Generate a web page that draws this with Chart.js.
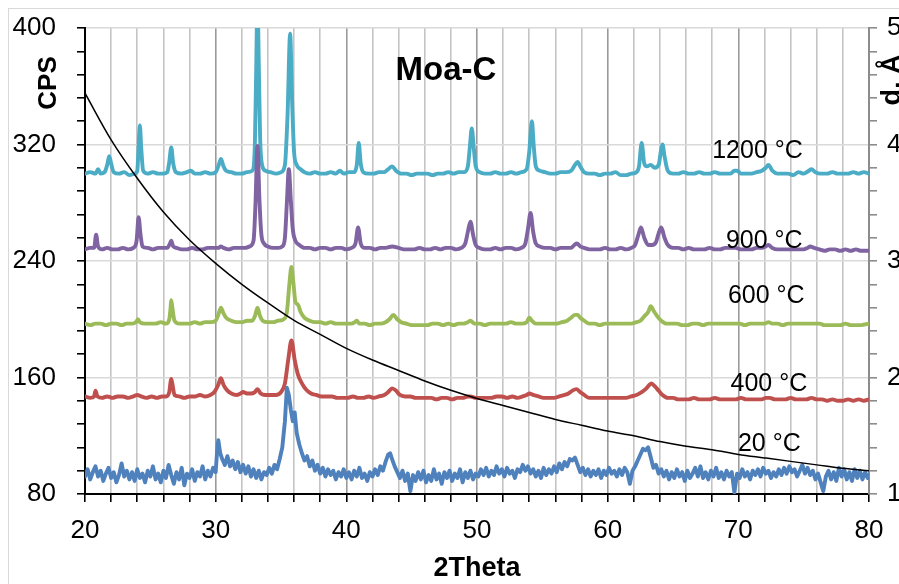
<!DOCTYPE html>
<html>
<head>
<meta charset="utf-8">
<script src="https://cdn.jsdelivr.net/npm/chart.js@4.4.1/dist/chart.umd.min.js"></script>
<style>
  html, body { margin: 0; padding: 0; background: #fff; overflow: hidden; }
  canvas { display: block; }
</style>
</head>
<body>
<canvas id="xrd" width="899" height="584"></canvas>
<script>
// 2Theta / CPS pairs
const cps1200 = [[20,300],[20.4,301],[20.8,300],[21.0,303],[21.2,300],[21.5,301],[21.7,306],[21.85,312],[22.0,307],[22.2,301],[22.6,300],[23.0,301],[23.4,299],[23.8,300],[24.0,302],[24.1,318],[24.2,333],[24.3,318],[24.45,302],[24.8,300],[25.2,301],[25.6,300],[26.0,300],[26.3,301],[26.45,308],[26.6,318],[26.75,307],[26.95,301],[27.4,300],[27.8,301],[28.1,302],[28.4,300],[28.8,300],[29.2,301],[29.6,300],[30.0,301],[30.2,305],[30.4,310],[30.6,305],[30.8,302],[31.2,301],[31.6,300],[32.0,300],[32.4,301],[32.8,302],[33.0,320],[33.1,370],[33.2,420],[33.3,375],[33.4,325],[33.55,306],[33.8,302],[34.2,301],[34.6,300],[35.0,301],[35.3,306],[35.5,340],[35.7,396],[35.85,350],[36.0,315],[36.2,306],[36.5,303],[36.8,301],[37.2,300],[37.6,301],[38.0,300],[38.4,300],[38.8,301],[39.2,300],[39.5,302],[39.8,300],[40.2,301],[40.6,301],[40.8,306],[40.95,321],[41.1,307],[41.3,301],[41.7,300],[42.1,300],[42.5,301],[42.9,301],[43.2,303],[43.5,305],[43.8,302],[44.2,300],[44.6,300],[45.0,299],[45.4,300],[45.8,300],[46.2,300],[46.6,299],[47.0,300],[47.4,300],[47.8,301],[48.2,300],[48.6,301],[49.0,301],[49.3,305],[49.45,318],[49.6,331],[49.75,318],[49.9,305],[50.2,301],[50.6,300],[51.0,300],[51.4,301],[51.8,300],[52.2,300],[52.6,301],[53.0,300],[53.4,301],[53.8,303],[54.0,315],[54.2,336],[54.35,318],[54.5,305],[54.8,302],[55.2,301],[55.6,300],[56.0,300],[56.4,301],[56.8,301],[57.2,302],[57.5,306],[57.7,308],[57.9,305],[58.2,301],[58.6,300],[59.0,300],[59.4,299],[59.8,300],[60.2,300],[60.6,301],[61.0,299],[61.4,299],[61.8,300],[62.2,301],[62.4,305],[62.6,321],[62.8,307],[63.0,305],[63.3,306],[63.6,304],[63.9,306],[64.1,317],[64.2,320],[64.35,312],[64.6,302],[65.0,300],[65.4,300],[65.8,301],[66.2,300],[66.6,300],[67.0,301],[67.4,300],[67.8,300],[68.2,301],[68.6,300],[69.0,300],[69.4,300],[69.7,302],[69.9,302],[70.2,300],[70.6,300],[71.0,300],[71.4,301],[71.8,302],[72.1,304],[72.3,306],[72.6,302],[73.0,300],[73.4,300],[73.8,300],[74.2,299],[74.6,301],[75.0,300],[75.4,302],[75.6,303],[75.9,301],[76.3,300],[76.8,300],[77.2,301],[77.6,300],[78.0,300],[78.4,300],[78.8,301],[79.2,300],[79.6,301],[80,300]];

const cps900 = [[20,248],[20.4,249],[20.7,249],[20.85,258],[21.0,250],[21.3,248],[21.7,249],[22.1,248],[22.5,248],[22.9,249],[23.3,248],[23.7,249],[23.95,254],[24.1,270],[24.25,258],[24.4,250],[24.8,249],[25.2,248],[25.6,249],[26.0,249],[26.3,249],[26.5,252],[26.6,254],[26.75,250],[27.0,249],[27.4,248],[27.8,248],[28.2,249],[28.6,248],[29.0,248],[29.4,249],[29.8,249],[30.2,249],[30.4,250],[30.6,249],[31.0,248],[31.4,249],[31.8,249],[32.2,249],[32.6,250],[32.9,254],[33.05,280],[33.2,319],[33.35,282],[33.5,258],[33.7,252],[34.0,250],[34.4,249],[34.8,249],[35.1,250],[35.3,256],[35.45,280],[35.6,303],[35.75,282],[35.9,262],[36.1,254],[36.4,251],[36.8,249],[37.2,249],[37.6,248],[38.0,249],[38.4,249],[38.8,248],[39.2,249],[39.6,249],[40.0,248],[40.4,249],[40.7,252],[40.9,263],[41.1,252],[41.4,249],[41.8,249],[42.2,248],[42.6,249],[43.0,249],[43.5,250],[44.0,249],[44.4,248],[44.8,248],[45.2,248],[45.6,249],[46.0,248],[46.4,248],[46.8,249],[47.2,248],[47.6,249],[48.0,249],[48.4,248],[48.8,249],[49.1,252],[49.3,260],[49.5,267],[49.7,258],[49.9,251],[50.2,249],[50.6,248],[51.0,248],[51.4,249],[51.8,248],[52.2,249],[52.6,249],[53.0,248],[53.4,249],[53.7,252],[53.9,262],[54.1,273],[54.3,260],[54.5,252],[54.8,250],[55.2,249],[55.6,249],[56.0,248],[56.4,249],[56.8,249],[57.2,249],[57.45,251],[57.65,252],[57.9,250],[58.2,249],[58.6,248],[59.0,248],[59.4,248],[59.8,249],[60.2,248],[60.6,248],[61.0,249],[61.4,248],[61.8,249],[62.1,251],[62.35,258],[62.55,263],[62.8,256],[63.1,251],[63.4,251],[63.7,253],[63.9,259],[64.1,263],[64.35,256],[64.6,251],[65.0,249],[65.4,249],[65.8,248],[66.2,249],[66.6,248],[67.0,248],[67.4,248],[67.8,249],[68.2,248],[68.6,248],[69.0,249],[69.4,249],[69.8,249],[70.2,248],[70.6,248],[71.0,248],[71.4,249],[71.8,249],[72.1,250],[72.3,251],[72.6,249],[73.0,248],[73.4,248],[73.8,248],[74.2,248],[74.6,248],[75.0,248],[75.3,249],[75.5,250],[75.8,249],[76.2,248],[76.6,247],[77.0,248],[77.4,248],[77.8,247],[78.2,248],[78.6,247],[79.0,248],[79.4,247],[80,247]];

const cps600 = [[20,197],[20.4,196],[20.8,197],[21.2,197],[21.6,196],[22.0,197],[22.4,197],[22.8,196],[23.2,197],[23.6,197],[23.9,198],[24.05,200],[24.2,198],[24.6,197],[25.0,197],[25.4,197],[25.8,198],[26.2,197],[26.45,200],[26.55,208],[26.6,213],[26.7,207],[26.85,199],[27.2,197],[27.6,197],[28.0,197],[28.4,198],[28.8,197],[29.2,198],[29.6,198],[30.0,199],[30.2,203],[30.4,208],[30.6,204],[30.8,201],[31.2,199],[31.6,198],[32.0,198],[32.4,199],[32.8,199],[33.0,202],[33.2,208],[33.4,202],[33.6,199],[34.0,198],[34.4,198],[34.8,199],[35.2,200],[35.45,205],[35.65,225],[35.8,236],[35.95,225],[36.1,212],[36.3,210],[36.5,205],[36.8,201],[37.2,199],[37.6,198],[38.0,198],[38.4,197],[38.8,198],[39.2,197],[39.6,197],[40.0,197],[40.4,197],[40.65,198],[40.8,199],[41.0,197],[41.4,197],[41.8,196],[42.2,197],[42.6,197],[43.0,198],[43.3,200],[43.6,203],[43.9,200],[44.2,198],[44.6,197],[45.0,196],[45.4,196],[45.8,196],[46.2,196],[46.6,197],[47.0,197],[47.4,196],[47.8,197],[48.2,196],[48.6,197],[49.0,197],[49.3,198],[49.5,199],[49.8,197],[50.2,197],[50.6,196],[51.0,197],[51.4,197],[51.8,197],[52.2,197],[52.6,198],[53.0,197],[53.4,197],[53.8,198],[54.0,201],[54.2,199],[54.5,197],[54.9,197],[55.3,197],[55.7,197],[56.1,197],[56.5,198],[56.9,199],[57.2,201],[57.5,203],[57.7,203],[57.9,201],[58.2,199],[58.6,197],[59.0,197],[59.4,196],[59.8,197],[60.2,197],[60.6,197],[61.0,197],[61.4,197],[61.8,197],[62.2,198],[62.5,199],[62.8,202],[63.1,205],[63.3,209],[63.5,206],[63.8,202],[64.1,199],[64.5,197],[64.9,197],[65.3,197],[65.7,196],[66.1,196],[66.5,197],[66.9,197],[67.3,196],[67.7,197],[68.1,197],[68.5,197],[68.9,197],[69.3,197],[69.7,197],[70.1,197],[70.5,196],[70.9,197],[71.3,197],[71.7,197],[72.0,197],[72.3,198],[72.6,197],[73.0,197],[73.4,196],[73.8,197],[74.2,197],[74.6,197],[75.0,197],[75.4,197],[75.8,197],[76.2,197],[76.6,196],[77.0,196],[77.4,196],[77.8,196],[78.2,197],[78.6,196],[79.0,196],[79.4,196],[80,197]];

const cps400 = [[20,147],[20.4,146],[20.7,147],[20.8,151],[20.95,147],[21.3,146],[21.7,147],[22.1,146],[22.5,147],[22.9,147],[23.3,146],[23.7,147],[24.0,148],[24.3,147],[24.7,146],[25.1,147],[25.5,146],[25.9,147],[26.2,147],[26.45,150],[26.55,157],[26.6,159],[26.7,155],[26.85,148],[27.2,147],[27.6,146],[28.0,147],[28.4,147],[28.8,148],[29.2,147],[29.6,148],[29.9,150],[30.2,155],[30.4,159.5],[30.6,155],[30.9,151],[31.2,149],[31.6,148],[31.9,149],[32.1,150],[32.4,149],[32.7,149],[33.0,150],[33.2,152],[33.45,149],[33.8,148],[34.2,148],[34.6,148],[35.0,150],[35.3,156],[35.55,172],[35.8,185.5],[36.05,172],[36.3,162],[36.6,156],[36.9,152],[37.3,149],[37.7,148],[38.1,147],[38.5,147],[38.9,147],[39.3,146],[39.7,146],[40.1,146],[40.5,147],[40.9,146],[41.3,146],[41.7,147],[42.1,146],[42.5,147],[42.9,148],[43.2,150],[43.5,152.5],[43.8,151],[44.1,148],[44.5,147],[44.9,147],[45.3,146],[45.7,146],[46.1,146],[46.5,146],[46.9,145],[47.3,146],[47.7,146],[48.1,145],[48.5,146],[48.9,146],[49.3,147],[49.5,147],[49.9,146],[50.3,146],[50.7,146],[51.1,146],[51.5,147],[51.9,147],[52.3,146],[52.7,147],[53.1,146],[53.5,147],[53.8,148],[54.0,149],[54.3,148],[54.7,147],[55.1,146],[55.5,146],[55.9,146],[56.3,147],[56.7,148],[57.0,149],[57.3,151],[57.6,152],[57.9,150],[58.2,148],[58.6,146],[59.0,146],[59.4,146],[59.8,146],[60.2,146],[60.6,146],[61.0,146],[61.4,146],[61.8,147],[62.2,148],[62.6,150],[62.9,152],[63.2,155],[63.35,156],[63.6,154],[63.9,151],[64.2,148],[64.6,146],[65.0,146],[65.4,145],[65.8,145],[66.2,145],[66.6,146],[67.0,145],[67.4,145],[67.8,145],[68.2,146],[68.6,145],[69.0,145],[69.4,145],[69.8,145],[70.2,146],[70.6,145],[71.0,145],[71.4,145],[71.8,145],[72.1,146],[72.4,146],[72.8,145],[73.2,145],[73.6,145],[74.0,146],[74.4,145],[74.8,145],[75.2,145],[75.6,146],[76.0,145],[76.4,145],[76.8,144],[77.2,145],[77.6,144],[78.0,144],[78.4,145],[78.8,144],[79.2,145],[79.6,144],[80,145]];

const cps20 = [[20.0,92],[20.2,97],[20.4,90],[20.6,95],[20.8,99],[21.0,92],[21.2,96],[21.4,89],[21.6,94],[21.8,98],[22.0,91],[22.2,95],[22.4,88],[22.6,93],[22.8,101],[23.0,92],[23.2,96],[23.4,90],[23.6,95],[23.8,89],[24.0,97],[24.2,91],[24.4,94],[24.6,88],[24.8,96],[25.0,92],[25.2,99],[25.4,90],[25.6,94],[25.8,88],[26.0,96],[26.2,91],[26.4,100],[26.6,93],[26.8,87],[27.0,95],[27.2,90],[27.4,98],[27.6,86],[27.8,94],[28.0,91],[28.2,97],[28.4,89],[28.6,95],[28.8,92],[29.0,99],[29.2,90],[29.4,96],[29.6,92],[29.8,98],[30.0,95],[30.1,108],[30.2,117],[30.35,108],[30.5,104],[30.7,100],[30.9,106],[31.1,99],[31.3,103],[31.5,97],[31.7,102],[31.9,95],[32.1,100],[32.3,94],[32.5,99],[32.7,92],[32.9,97],[33.1,91],[33.3,96],[33.5,90],[33.7,95],[33.9,93],[34.1,98],[34.3,94],[34.5,100],[34.7,97],[34.9,104],[35.1,112],[35.3,130],[35.45,153],[35.6,148],[35.75,138],[35.9,130],[36.05,136],[36.2,122],[36.4,114],[36.6,108],[36.8,103],[37.0,106],[37.2,99],[37.4,103],[37.6,96],[37.8,100],[38.0,94],[38.2,98],[38.4,92],[38.6,97],[38.8,93],[39.0,96],[39.2,90],[39.4,95],[39.6,92],[39.8,97],[40.0,91],[40.2,95],[40.4,90],[40.6,96],[40.8,92],[41.0,98],[41.2,91],[41.4,94],[41.6,89],[41.8,95],[42.0,92],[42.2,97],[42.4,93],[42.6,99],[42.8,96],[43.0,102],[43.2,107],[43.35,108],[43.5,104],[43.7,99],[43.9,95],[44.1,91],[44.3,96],[44.5,89],[44.7,94],[44.9,82],[45.1,93],[45.3,89],[45.5,95],[45.7,90],[45.9,96],[46.1,88],[46.3,93],[46.5,89],[46.7,97],[46.9,90],[47.1,94],[47.3,87],[47.5,95],[47.7,91],[47.9,96],[48.1,89],[48.3,94],[48.5,91],[48.7,97],[48.9,88],[49.1,95],[49.3,91],[49.5,96],[49.7,90],[49.9,94],[50.1,92],[50.3,97],[50.5,93],[50.7,98],[50.9,92],[51.1,96],[51.3,93],[51.5,99],[51.7,94],[51.9,97],[52.1,92],[52.3,98],[52.5,94],[52.7,96],[52.9,91],[53.1,97],[53.3,95],[53.5,100],[53.7,96],[53.9,99],[54.1,94],[54.3,97],[54.5,92],[54.7,96],[54.9,91],[55.1,98],[55.3,93],[55.5,97],[55.7,94],[55.9,99],[56.1,95],[56.3,101],[56.5,97],[56.7,102],[56.9,99],[57.1,104],[57.3,103],[57.5,105],[57.7,100],[57.9,95],[58.1,98],[58.3,93],[58.5,97],[58.7,92],[58.9,96],[59.1,93],[59.3,97],[59.5,91],[59.7,96],[59.9,93],[60.1,98],[60.3,94],[60.5,96],[60.7,92],[60.9,97],[61.1,93],[61.3,98],[61.5,95],[61.7,87],[61.9,96],[62.1,99],[62.3,103],[62.5,107],[62.7,111],[62.9,110],[63.1,112],[63.3,105],[63.5,98],[63.7,100],[63.9,94],[64.1,97],[64.3,92],[64.5,96],[64.7,90],[64.9,95],[65.1,91],[65.3,97],[65.5,92],[65.7,95],[65.9,89],[66.1,96],[66.3,91],[66.5,94],[66.7,98],[66.9,92],[67.1,99],[67.3,91],[67.5,95],[67.7,90],[67.9,96],[68.1,92],[68.3,98],[68.5,91],[68.7,95],[68.9,90],[69.1,96],[69.3,92],[69.5,95],[69.7,81],[69.9,94],[70.1,91],[70.3,97],[70.5,92],[70.7,95],[70.9,90],[71.1,96],[71.3,93],[71.5,97],[71.7,92],[71.9,98],[72.1,94],[72.3,96],[72.5,91],[72.7,95],[72.9,92],[73.1,97],[73.3,93],[73.5,98],[73.7,94],[73.9,99],[74.1,95],[74.3,97],[74.5,92],[74.7,96],[74.9,100],[75.1,94],[75.3,98],[75.5,93],[75.7,96],[75.9,90],[76.1,94],[76.3,88],[76.5,82],[76.7,92],[76.9,96],[77.1,90],[77.3,95],[77.5,89],[77.7,98],[77.9,92],[78.1,97],[78.3,90],[78.5,95],[78.7,89],[78.9,97],[79.1,91],[79.3,96],[79.5,90],[79.7,95],[79.9,91],[80.0,93]];

// d-spacing curve (right axis), read at every 2 degrees
const dAngles = [20,22,24,26,28,30,32,34,36,38,40,42,44,46,48,50,52,54,56,58,60,62,64,66,68,70,72,74,76,78,80];
const dValues = [4.44,4.04,3.71,3.42,3.18,2.98,2.80,2.64,2.49,2.37,2.25,2.15,2.06,1.97,1.89,1.82,1.76,1.70,1.64,1.59,1.54,1.50,1.45,1.41,1.38,1.34,1.31,1.28,1.25,1.22,1.20];

const seriesNames = ['20 °C', '400 °C', '600 °C', '900 °C', '1200 °C'];
const seriesColors = ['#4F81BD', '#C0504D', '#9BBB59', '#8064A2', '#4BACC6'];
const seriesData = [cps20, cps400, cps600, cps900, cps1200];
// where each temperature label sits, in [2Theta, CPS] (baseline-left of the text)
const labelAt = [[69.97, 109.5], [69.4, 150.7], [69.2, 211.1], [69.05, 248.9], [68.0, 310.7]];

const FONT = '"Liberation Sans", Arial, sans-serif';

const decor = {
  id: 'decor',
  beforeDraw(chart) {
    const c = chart.ctx;
    c.save();
    c.fillStyle = '#fff';
    c.fillRect(0, 0, chart.width, chart.height);
    c.strokeStyle = '#d9d9d9';
    c.lineWidth = 1;
    c.strokeRect(8.5, 8.5, 1000, 1000);
    c.restore();
  },
  afterDraw(chart) {
    const c = chart.ctx;
    const x = chart.scales.x, y = chart.scales.y;
    c.save();
    c.fillStyle = '#000';
    c.textBaseline = 'alphabetic';

    c.font = 'bold 33px ' + FONT;
    c.textAlign = 'center';
    c.fillText('Moa-C', 446, 80);

    c.font = '25px ' + FONT;
    c.textAlign = 'left';
    seriesNames.forEach((name, i) => {
      c.fillText(name, x.getPixelForValue(labelAt[i][0]), y.getPixelForValue(labelAt[i][1]));
    });

    c.font = 'bold 27px ' + FONT;
    c.textAlign = 'center';
    c.fillText('2Theta', (chart.chartArea.left + chart.chartArea.right) / 2, 576);

    c.font = 'bold 26px ' + FONT;
    c.textBaseline = 'middle';
    c.translate(49, 83);
    c.rotate(-Math.PI / 2);
    c.fillText('CPS', 0, 0);
    c.restore();

    c.save();
    c.fillStyle = '#000';
    c.font = 'bold 27px ' + FONT;
    c.textAlign = 'center';
    c.textBaseline = 'middle';
    c.translate(893, 80);
    c.rotate(-Math.PI / 2);
    c.fillText('d, Å', 0, 0);
    c.restore();
  }
};

const datasets = [{
  label: 'd',
  data: dAngles.map((a, i) => [a, dValues[i]]),
  yAxisID: 'y2',
  borderColor: '#000',
  borderWidth: 1.5,
  pointRadius: 0,
  cubicInterpolationMode: 'monotone',
  fill: false,
}];
seriesData.forEach((d, i) => {
  datasets.push({
    label: seriesNames[i],
    data: d,
    yAxisID: 'y',
    borderColor: seriesColors[i],
    borderWidth: 3.9,
    borderJoinStyle: 'round',
    borderCapStyle: 'round',
    pointRadius: 0,
    cubicInterpolationMode: i === 0 ? 'default' : 'monotone',
    tension: i === 0 ? 0 : 0.4,
    fill: false,
  });
});

const isInt = v => Math.abs(v - Math.round(v)) < 1e-6;
// keep the plot box where the reference has it: no extra room for half labels
const noPad = s => { s.paddingTop = 0; s.paddingBottom = 0; s.paddingLeft = 0; s.paddingRight = 0; };

new Chart(document.getElementById('xrd'), {
  type: 'line',
  data: { datasets },
  options: {
    responsive: false,
    animation: false,
    layout: { padding: { top: 28, left: 0, right: 0, bottom: 0 } },
    plugins: { legend: { display: false }, tooltip: { enabled: false } },
    scales: {
      x: {
        type: 'linear',
        min: 20, max: 80,
        afterFit: s => { s.height = 90; noPad(s); },
        ticks: {
          stepSize: 2, autoSkip: false, maxRotation: 0, padding: 13,
          color: '#000', font: { family: FONT, size: 26 },
          callback: v => (v % 10 === 0 ? v : ''),
        },
        grid: {
          color: ctx => (ctx.tick && ctx.tick.value % 10 === 0 ? '#9a9a9a' : '#c4c4c4'),
          lineWidth: 1.6,
          tickColor: '#000',
          tickLength: 8,
        },
        border: { color: '#000', width: 2 },
      },
      y: {
        position: 'left',
        min: 80, max: 400,
        afterFit: s => { s.width = 85; noPad(s); },
        ticks: {
          stepSize: 16, autoSkip: false, padding: 21,
          color: '#000', font: { family: FONT, size: 26 },
          callback: v => (v % 80 === 0 ? v : ''),
        },
        grid: {
          color: ctx => (ctx.tick && ctx.tick.value % 80 === 0 && ctx.tick.value !== 80 ? '#d9d9d9' : 'rgba(0,0,0,0)'),
          lineWidth: 1.6,
          tickColor: '#000',
          tickLength: 8,
        },
        border: { color: '#000', width: 2 },
      },
      y2: {
        position: 'right',
        min: 1, max: 5,
        afterFit: s => { s.width = 30; noPad(s); },
        ticks: {
          stepSize: 0.2, autoSkip: false, padding: 10,
          color: '#000', font: { family: FONT, size: 26 },
          callback: v => (isInt(v) ? Math.round(v) : ''),
        },
        grid: {
          drawOnChartArea: false,
          tickColor: '#8c8c8c',
          tickLength: 8,
          lineWidth: 1.6,
        },
        border: { color: '#8c8c8c', width: 2 },
      },
    },
  },
  plugins: [decor],
});
</script>
</body>
</html>
